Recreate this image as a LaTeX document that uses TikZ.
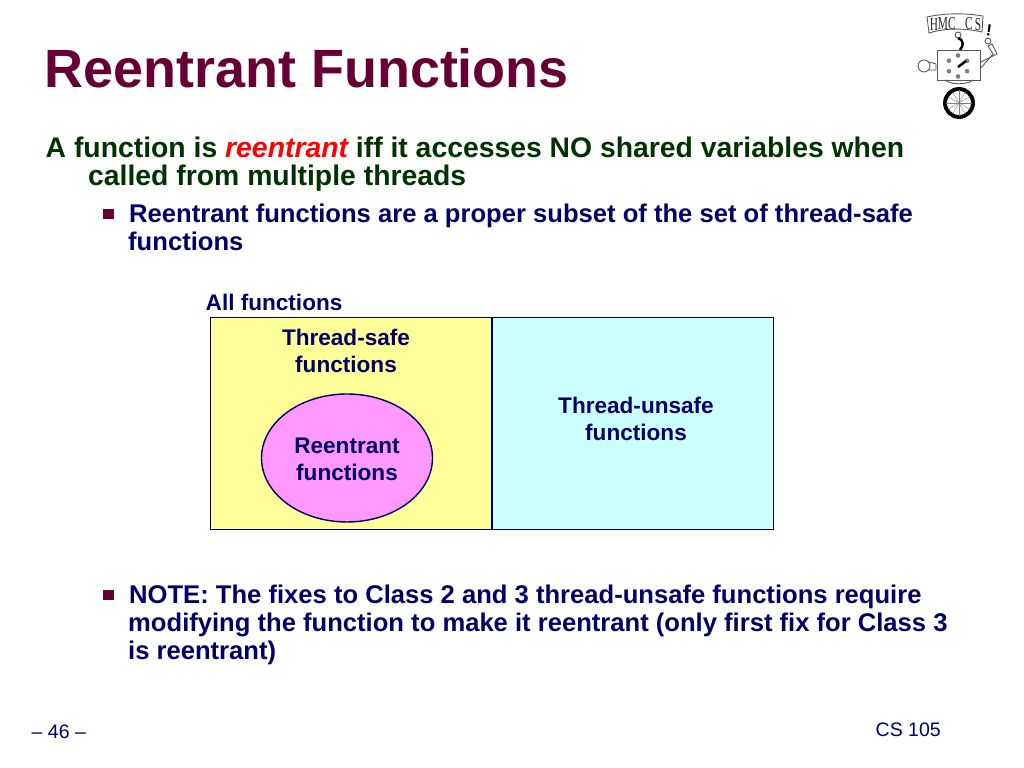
\documentclass[tikz,border=0pt]{standalone}
\usepackage{fontspec}
\setmainfont{Liberation Sans}
\newfontfamily\logofont{Liberation Serif}
\definecolor{titlecol}{HTML}{660033}
\definecolor{leadcol}{HTML}{003300}
\definecolor{navycol}{HTML}{000066}
\definecolor{safecol}{HTML}{FFFF99}
\definecolor{unsafecol}{HTML}{CCFFFF}
\definecolor{reentcol}{HTML}{FF99FF}
\tikzset{
    line/.style={anchor=base west, inner sep=0pt, font=\bfseries\fontsize{8.06}{9}\selectfont, text=leadcol},
    subline/.style={anchor=base west, inner sep=0pt, font=\bfseries\fontsize{7.28}{9}\selectfont, text=navycol},
    label/.style={align=center, inner sep=0pt, font=\bfseries\fontsize{6.42}{7.85}\selectfont, text=navycol},
    foot/.style={anchor=base west, inner sep=0pt, font=\fontsize{5.55}{7}\selectfont, text=navycol},
    bulletbox/.style={fill=titlecol, minimum size=0.105cm, inner sep=0pt},
    setbox/.style={draw=navycol, line width=0.4pt},
    logoline/.style={line width=0.25pt, draw=black!65},
    logoletter/.style={inner sep=0pt, font=\logofont\fontsize{5.2}{6}\selectfont, text=black!85, xscale=0.62},
}
\begin{document}
\begin{tikzpicture}[x=0.01cm,y=-0.01cm]
    \useasboundingbox[fill=white] (0,0) rectangle (1024,768);
    \node[anchor=base west, inner sep=0pt, font=\bfseries\fontsize{15.33}{18}\selectfont, text=titlecol] (title) at (44,88){Reentrant Functions};
    \node[line] (lead1) at (45,157.5){A function is {\color{red}\itshape reentrant} iff it accesses NO shared variables when};
    \node[line] (lead2) at (87.5,186){called from multiple threads};
    \node[bulletbox] (b1) at (108.5,214){};
    \node[subline] (sub1) at (128.5,222.5){Reentrant functions are a proper subset of the set of thread-safe};
    \node[subline] (sub2) at (127.5,250.5){functions};
    \node[anchor=base west, inner sep=0pt, font=\bfseries\fontsize{6.42}{8}\selectfont, text=navycol] (all) at (205,311){All functions};
    % the sets
    \node[setbox, fill=safecol, minimum width=2.81cm, minimum height=2.12cm, inner sep=0pt] (safe) at (351,423.5){};
    \node[setbox, fill=unsafecol, minimum width=2.81cm, minimum height=2.12cm, inner sep=0pt] (unsafe) at (633,423.5){};
    \draw[setbox, fill=reentcol] (347,458) ellipse (85.5 and 64);
    \node[label] (safetext) at (346,351){Thread-safe\\functions};
    \node[label] (unsafetext) at (636,419){Thread-unsafe\\functions};
    \node[label] (reenttext) at (347,459.5){Reentrant\\functions};
    \node[bulletbox] (b2) at (108.5,595){};
    \node[subline] (note1) at (128.5,603.5){NOTE: The fixes to Class 2 and 3 thread-unsafe functions require};
    \node[subline] (note2) at (127.5,631.5){modifying the function to make it reentrant (only first fix for Class 3};
    \node[subline] (note3) at (127.5,659.5){is reentrant)};
    \node[foot] (page) at (31,739){-- 46 --};
    \node[foot] (course) at (875,737){CS 105};
    % the logo
    \draw[logoline, fill=white] (927,17) .. controls (945,13) and (965,13) .. (983,16) -- (982,32) .. controls (965,28) and (945,28) .. (929,33) -- cycle;
    \node[logoletter] (h) at (934,25){H};
    \node[logoletter] (m) at (943,24){M};
    \node[logoletter] (c) at (952,23.5){C};
    \node[logoletter] (c2) at (969,23.5){C};
    \node[logoletter] (s) at (978,24.5){S};
    \node[inner sep=0pt, font=\bfseries\fontsize{4.6}{5}\selectfont, rotate=-8] (bang) at (989,30){!};
    \draw[logoline, fill=white] (958,35) circle (3);
    \draw[line width=0.7pt] (958,38) .. controls (965,41) and (963,46) .. (960,50);
    \draw[logoline, fill=white] (937,50) rectangle (980,80);
    \draw[logoline, fill=white] (924,66) circle (6);
    \draw[logoline] (929,62) -- (936,64) -- (936,70) -- (929,70);
    \draw[logoline] (981,62) -- (997,54) -- (992,44) -- (988,46) -- (993,54) -- (981,68);
    \draw[logoline, fill=white] (988,41) circle (3);
    \foreach \ang in {30,90,150,210,270,330}{
        \fill[black!50] (958,66) ++(\ang:10.5) circle (2.3);
    }
    \draw[line width=0.7pt] (958,67) -- (966,61);
    \draw[logoline] (945,80) .. controls (950,85) and (968,85) .. (973,80);
    \draw[line width=1.1pt] (959,103) circle (14);
    \foreach \ang in {0,30,...,330}{
        \draw[line width=0.12pt, draw=black!50] (959,103) -- ++(\ang:13);
    }
\end{tikzpicture}
\end{document}
